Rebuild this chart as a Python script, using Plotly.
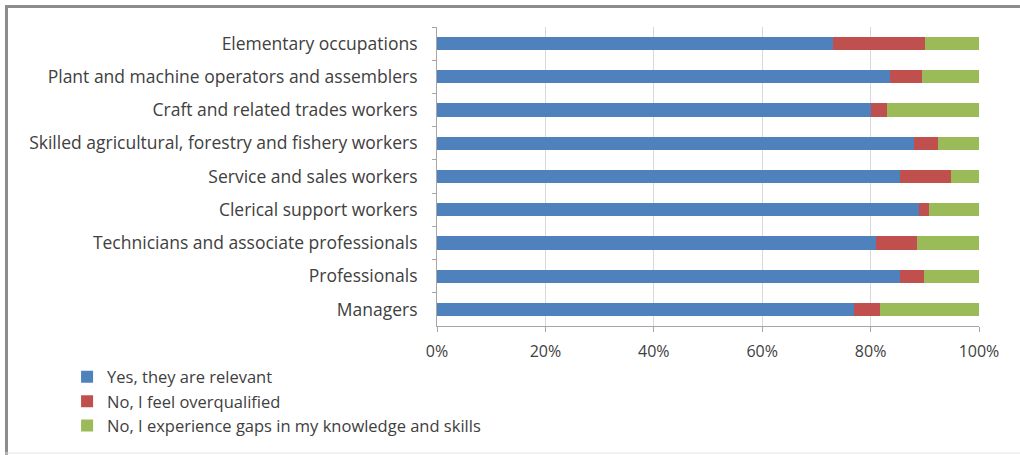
import plotly.graph_objects as go

categories = [
    "Elementary occupations",
    "Plant and machine operators and assemblers",
    "Craft and related trades workers",
    "Skilled agricultural, forestry and fishery workers",
    "Service and sales workers",
    "Clerical support workers",
    "Technicians and associate professionals",
    "Professionals",
    "Managers",
]
relevant = [73, 83.5, 80, 88, 85.5, 89, 81, 85.5, 77]
overqualified = [17, 6, 3, 4.5, 9.3, 1.7, 7.6, 4.4, 4.8]
gaps = [10, 10.5, 17, 7.5, 5.2, 9.3, 11.4, 10.1, 18.2]
series_names = [
    "Yes, they are relevant",
    "No, I feel overqualified",
    "No, I experience gaps in my knowledge and skills",
]
colors = ["#4F81BD", "#C0504D", "#9BBB59"]
tick_vals = [0, 20, 40, 60, 80, 100]
tick_text = ["0%", "20%", "40%", "60%", "80%", "100%"]

FONT = "Open Sans"
TXT = "#404040"
fig = go.Figure()
for i, (name, vals) in enumerate(zip(series_names, [relevant, overqualified, gaps])):
    fig.add_trace(go.Bar(
        y=categories, x=vals, name=name, orientation="h",
        marker=dict(color=colors[i], line=dict(width=0)),
        legendgroup=f"g{i}",
    ))

# plot area in pixels: x 437..979, y 27..326
fig.update_layout(
    barmode="stack",
    bargap=0.6,
    width=1020, height=455,
    margin=dict(l=437, r=41, t=27, b=129, autoexpand=False),
    paper_bgcolor="white", plot_bgcolor="white",
    font=dict(family=FONT, size=17.5, color=TXT),
    showlegend=True,
    legend=dict(
        x=-0.6825, y=-0.112, xanchor="left", yanchor="top",
        orientation="v", traceorder="normal",
        font=dict(family=FONT, size=16.5, color=TXT),
        itemwidth=30, tracegroupgap=0,
        bgcolor="rgba(0,0,0,0)",
    ),
    xaxis=dict(
        range=[0, 100], tickvals=tick_vals, ticktext=tick_text,
        showgrid=True, gridcolor="#D9D9D9", gridwidth=1,
        showline=True, linecolor="#A6A6A6", linewidth=1,
        ticks="outside", ticklen=5, tickcolor="#A6A6A6",
        ticklabelstandoff=6, tickfont=dict(size=16),
        zeroline=False, fixedrange=True,
    ),
    yaxis=dict(
        autorange="reversed", type="category",
        showline=True, linecolor="#A6A6A6", linewidth=1,
        ticks="outside", ticklen=4, tickcolor="#A6A6A6",
        tickson="boundaries", ticklabelstandoff=15,
        showgrid=False, fixedrange=True,
    ),
    shapes=[
        dict(type="line", xref="paper", yref="paper", x0=-0.797, x1=1.0756, y0=1.0686, y1=1.0686,
             line=dict(color="#8C8C8C", width=3)),
        dict(type="line", xref="paper", yref="paper", x0=-0.7943, x1=-0.7943, y0=-0.431, y1=1.0736,
             line=dict(color="#8C8C8C", width=3)),
        dict(type="line", xref="paper", yref="paper", x0=-0.797, x1=1.0756, y0=-0.4247, y1=-0.4247,
             line=dict(color="#E3E3E3", width=1)),
    ],
)
fig.write_html("out.html", post_script="document.body.style.margin='0';",
               config={"displayModeBar": False})
